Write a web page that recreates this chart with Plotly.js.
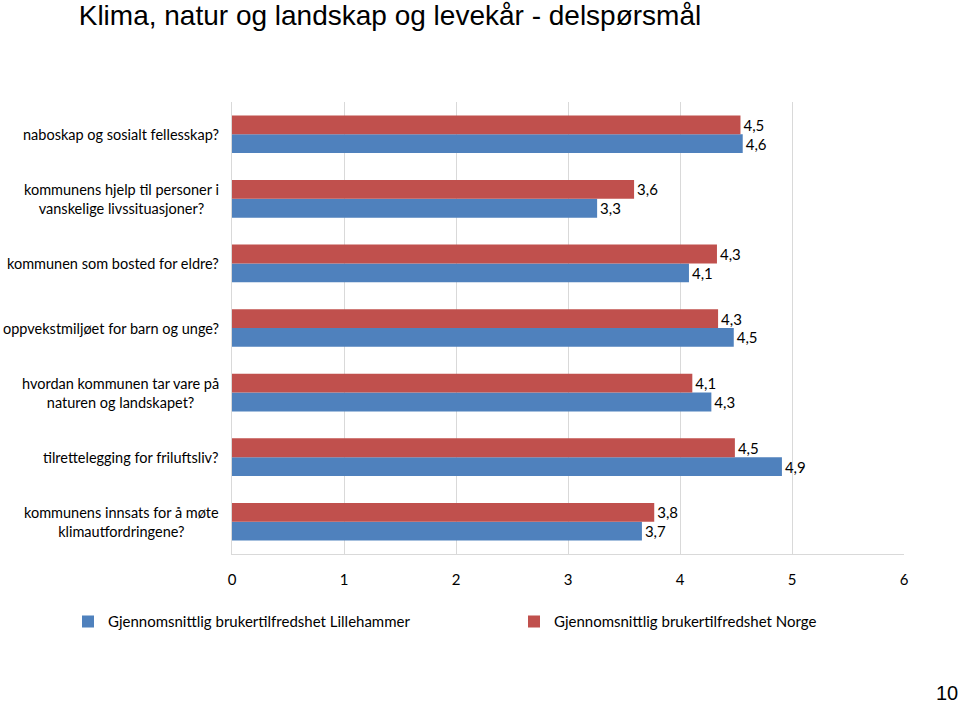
<!DOCTYPE html>
<html>
<head>
<meta charset="utf-8">
<script src="https://cdn.plot.ly/plotly-3.0.1.min.js"></script>
<style>html,body{margin:0;padding:0;background:#fff;}#chart{width:960px;height:704px;}</style>
</head>
<body>
<div id="chart"></div>
<script>
// Categories, top to bottom as in the reference
const categories = [
  "naboskap og sosialt fellesskap?",
  "kommunens hjelp til personer i<br>vanskelige livssituasjoner?",
  "kommunen som bosted for eldre?",
  "oppvekstmiljøet for barn og unge?",
  "hvordan kommunen tar vare på<br>naturen og landskapet?",
  "tilrettelegging for friluftsliv?",
  "kommunens innsats for å møte<br>klimautfordringene?"
];
const seriesNames = [
  "Gjennomsnittlig brukertilfredshet Lillehammer",
  "Gjennomsnittlig brukertilfredshet Norge"
];
const lillehammer = [4.56, 3.26, 4.08, 4.48, 4.28, 4.91, 3.66];
const norge       = [4.54, 3.59, 4.33, 4.34, 4.11, 4.49, 3.77];
const xTicks = [0, 1, 2, 3, 4, 5, 6];
const titleText = "Klima, natur og landskap og levekår - delspørsmål";
const pageNumber = "10";

const FONT = "Lato, 'Open Sans', sans-serif";
const catOrder = categories.slice().reverse();

const traces = [
  {
    type: "bar", orientation: "h", name: seriesNames[0],
    y: categories, x: lillehammer,
    marker: {color: "#4F81BD"},
    texttemplate: "%{x:.1f}", textposition: "outside",
    textfont: {family: FONT, size: 15, color: "#000"},
    cliponaxis: false, hoverinfo: "x+y"
  },
  {
    type: "bar", orientation: "h", name: seriesNames[1],
    y: categories, x: norge,
    marker: {color: "#C0504D"},
    texttemplate: "%{x:.1f}", textposition: "outside",
    textfont: {family: FONT, size: 15, color: "#000"},
    cliponaxis: false, hoverinfo: "x+y"
  }
];

const annotations = categories.map(c => ({
  xref: "paper", yref: "y", x: 0, y: c,
  xanchor: "right", yanchor: "middle", xshift: -11,
  text: c, showarrow: false, align: "center",
  font: {family: FONT, size: 14.5, color: "#000"}
}));
annotations.push({
  xref: "paper", yref: "paper", x: 1.084, y: -0.307,
  xanchor: "right", yanchor: "middle", text: pageNumber, showarrow: false,
  font: {family: "'Liberation Sans', Arial, sans-serif", size: 20, color: "#000"}
});

const layout = {
  width: 960, height: 704,
  paper_bgcolor: "#fff", plot_bgcolor: "#fff",
  margin: {l: 232, r: 56, t: 102, b: 150},
  separators: ", ",
  barmode: "group", bargap: 0.417, bargroupgap: 0,
  title: {
    text: titleText, xref: "container", yref: "container",
    x: 0.082, xanchor: "left", y: 0.978, yanchor: "middle",
    font: {family: "'Liberation Sans', Arial, sans-serif", size: 28, color: "#000"}
  },
  xaxis: {
    range: [0, 6], tickvals: xTicks, ticktext: xTicks.map(String),
    showgrid: true, gridcolor: "#D9D9D9", gridwidth: 1,
    zeroline: false, showline: true, linecolor: "#D9D9D9", linewidth: 1,
    ticks: "outside", ticklen: 12, tickcolor: "rgba(0,0,0,0)",
    tickfont: {family: FONT, size: 15, color: "#000"}, fixedrange: true
  },
  yaxis: {
    type: "category", categoryorder: "array", categoryarray: catOrder,
    showticklabels: false, showgrid: false, zeroline: false,
    showline: true, linecolor: "#D9D9D9", linewidth: 1, ticks: "", fixedrange: true
  },
  showlegend: true,
  legend: {
    orientation: "h", x: -0.232, xanchor: "left", y: -0.15, yanchor: "middle",
    entrywidth: 401, entrywidthmode: "pixels",
    font: {family: FONT, size: 15, color: "#000"},
    bgcolor: "rgba(0,0,0,0)", traceorder: "normal"
  },
  annotations: annotations
};

Plotly.newPlot("chart", traces, layout, {displayModeBar: false, staticPlot: true});
</script>
</body>
</html>
